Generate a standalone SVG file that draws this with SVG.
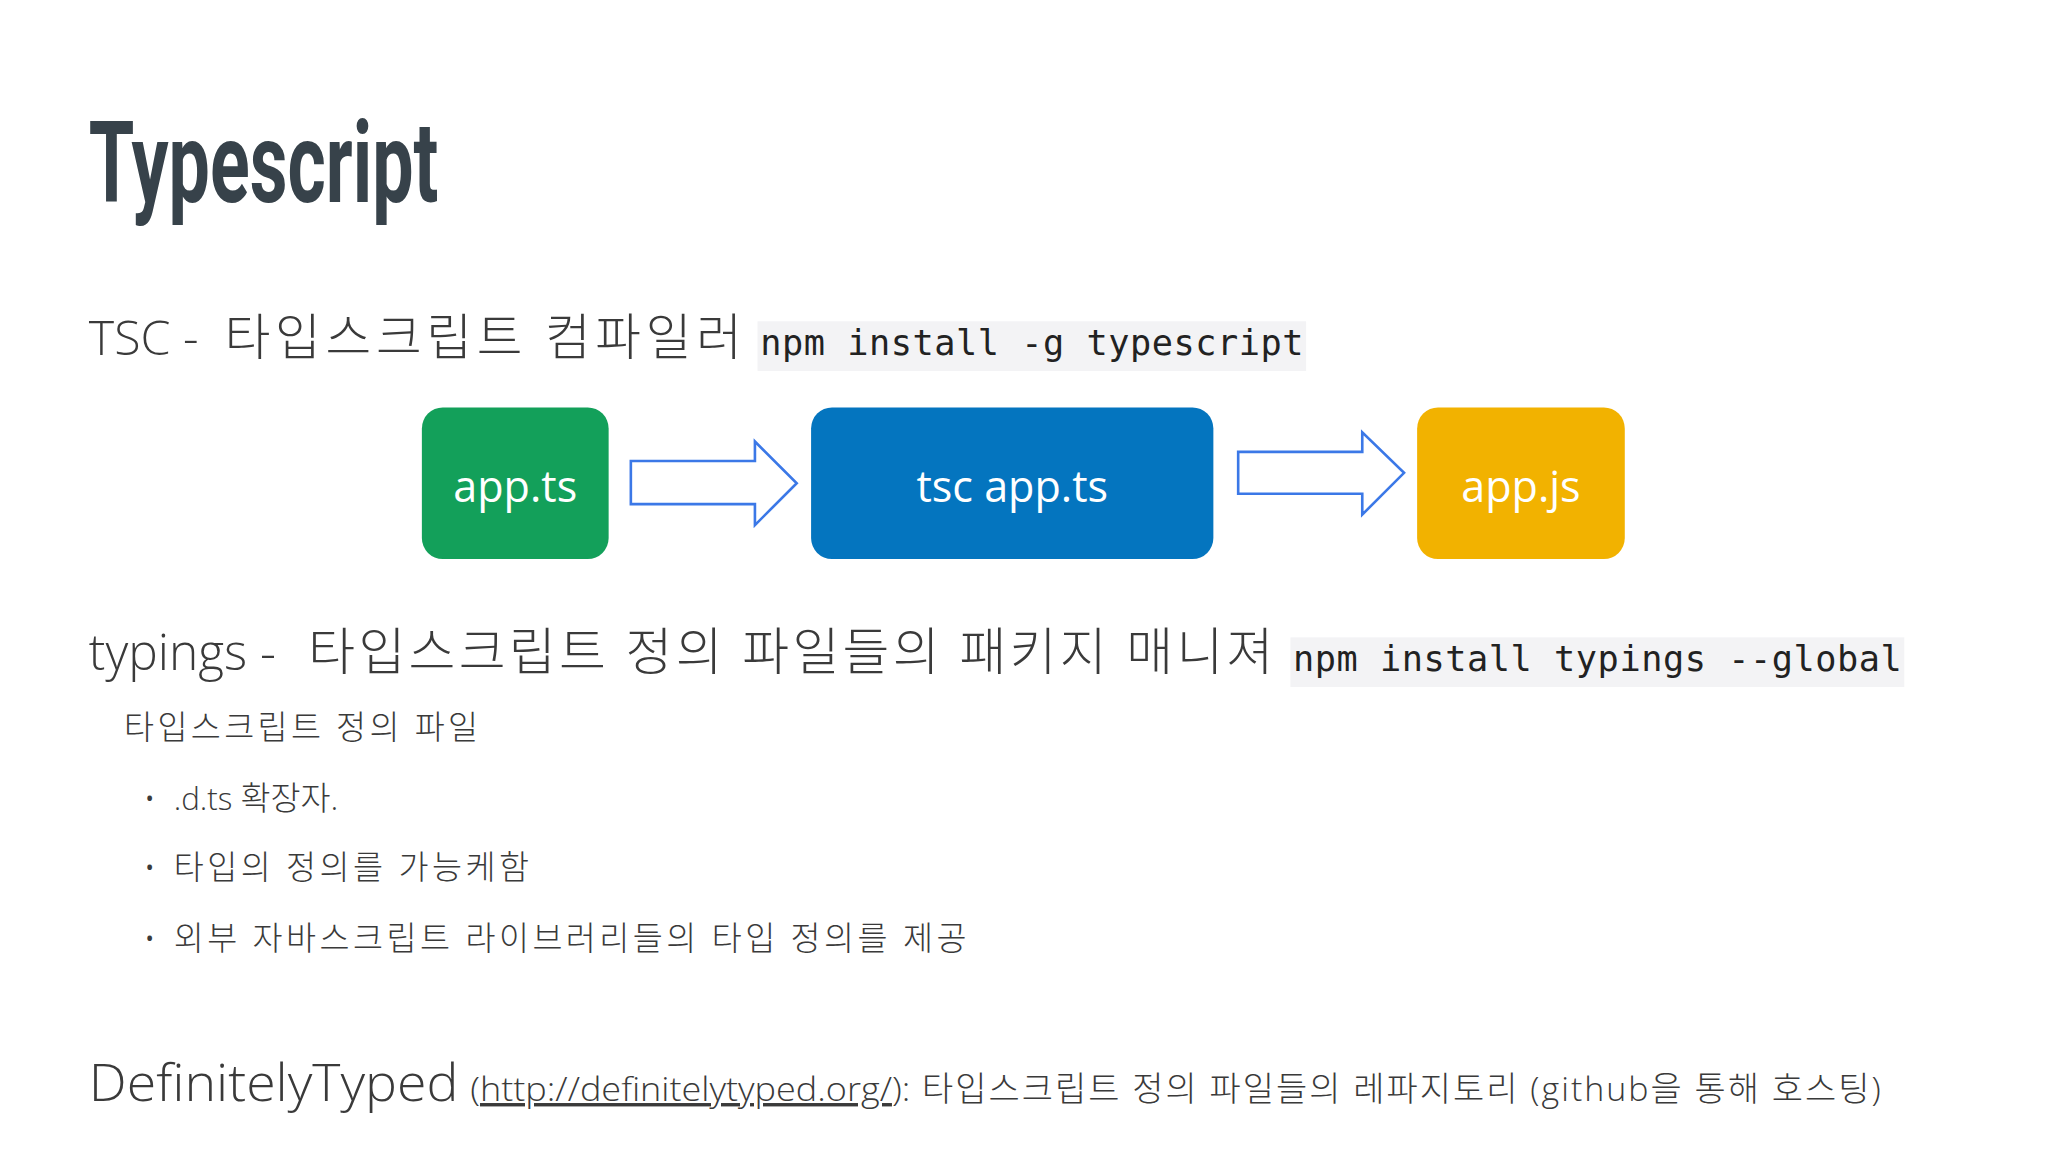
<svg xmlns="http://www.w3.org/2000/svg" width="2048" height="1152" viewBox="0 0 2048 1152">
<style>
.k{font-family:"Open Sans","Noto Sans CJK KR",sans-serif;fill:#3a3a3a;font-weight:300}
.m{font-family:"DejaVu Sans Mono","Liberation Mono",monospace;fill:#222;font-size:27px}
.code{fill:#f3f3f5}
.w{font-family:"Open Sans","Noto Sans",sans-serif;fill:#fff;font-size:33px;text-anchor:middle}
.arr{fill:#fff;stroke:#3b78e7;stroke-width:2}
</style>
<rect width="2048" height="1152" fill="#fff"/>
<g transform="scale(1.3061)">
<g id="title"><text x="68" y="155" transform="translate(68 0) scale(0.655 1) translate(-68 0)" font-family="Roboto,'Liberation Sans',sans-serif" font-weight="bold" font-size="86" fill="#37424a">Typescript</text></g>
<g id="tsc">
<text class="k" x="68" y="272" font-size="37">TSC -</text>
<text class="k" x="172" y="272" font-size="38" textLength="396" lengthAdjust="spacing">타입스크립트 컴파일러</text>
<rect class="code" x="580" y="246" width="420" height="38"/>
<text class="m" x="582" y="272" textLength="416" lengthAdjust="spacing">npm install -g typescript</text>
</g>
<g id="n1"><rect x="323" y="312" width="143" height="116" rx="16" fill="#13a05a"/><text class="w" x="394.5" y="384">app.ts</text></g>
<g id="n2"><rect x="621" y="312" width="308" height="116" rx="16" fill="#0475bf"/><text class="w" x="775" y="384">tsc app.ts</text></g>
<g id="n3"><rect x="1085" y="312" width="159" height="116" rx="16" fill="#f2b200"/><text class="w" x="1164.5" y="384">app.js</text></g>
<g id="connectors">
<path class="arr" d="M483 353H578V338L610 370L578 402V386H483Z"/>
<path class="arr" d="M948 346H1043V331L1075 362L1043 394V378H948Z"/>
</g>
<g id="typings">
<text class="k" x="68" y="513" font-size="38">typings -</text>
<text class="k" x="236" y="513" font-size="39" textLength="739" lengthAdjust="spacing">타입스크립트 정의 파일들의 패키지 매니져</text>
<rect class="code" x="988" y="488" width="470" height="38"/>
<text class="m" x="990" y="514" textLength="466" lengthAdjust="spacing">npm install typings --global</text>
<text class="k" x="95" y="566" font-size="25" textLength="271" lengthAdjust="spacing">타입스크립트 정의 파일</text>
<text class="k" x="110" y="620" font-size="24">•</text>
<text class="k" x="110" y="673" font-size="24">•</text>
<text class="k" x="110" y="727" font-size="24">•</text>
<text class="k" x="133" y="620" font-size="24">.d.ts <tspan font-size="25">확장자.</tspan></text>
<text class="k" x="133" y="673" font-size="25" textLength="272" lengthAdjust="spacing">타입의 정의를 가능케함</text>
<text class="k" x="133" y="727" font-size="25" textLength="607" lengthAdjust="spacing">외부 자바스크립트 라이브러리들의 타입 정의를 제공</text>
</g>
<g id="dt">
<text class="k" x="68" y="843" font-size="40" textLength="283" lengthAdjust="spacingAndGlyphs">DefinitelyTyped</text>
<text class="k" x="360" y="843" font-size="26" textLength="337" lengthAdjust="spacingAndGlyphs">(<tspan text-decoration="underline">http://definitelytyped.org/</tspan>):</text>
<text class="k" x="706" y="843" font-size="26" textLength="734" lengthAdjust="spacing">타입스크립트 정의 파일들의 레파지토리 (github을 통해 호스팅)</text>
</g>
</g>
</svg>
